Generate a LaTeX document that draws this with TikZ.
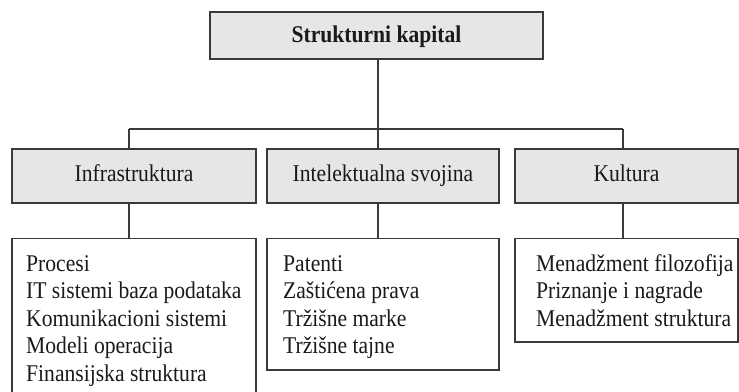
\documentclass[tikz,border=0pt]{standalone}
\usepackage{fontspec}
\setmainfont{Liberation Serif}[FakeStretch=0.9]
\begin{document}
\begin{tikzpicture}[x=1pt,y=1pt,
  frame/.style={draw=linegray,line width=1.2pt},
  headbox/.style={frame,fill=boxgray,inner sep=0pt,
    font=\fontsize{24}{27.5}\selectfont,text=ink},
  listbox/.style={frame,fill=white,inner sep=0pt},
  listtext/.style={inner sep=0pt,anchor=base west,text=ink,
    font=\fontsize{24}{27.5}\selectfont},
  link/.style={draw=linegray,line width=1.2pt}]
\definecolor{boxgray}{RGB}{231,229,230}
\definecolor{linegray}{RGB}{58,58,58}
\definecolor{ink}{RGB}{26,26,26}
\useasboundingbox (0,0) rectangle (739,391);
\clip (0,0) rectangle (739,391);

% root
\node[headbox,minimum width=333pt,minimum height=47pt,
  text height=17pt,text depth=2pt,font=\fontsize{24}{27.5}\selectfont\bfseries]
  (root) at (376.5,355.5) {Strukturni kapital};

% category headers
\node[headbox,minimum width=244pt,minimum height=54pt,text height=17pt,text depth=5pt]
  (h1) at (134,215) {Infrastruktura};
\node[headbox,minimum width=232pt,minimum height=54pt,text height=17pt,text depth=5pt]
  (h2) at (383,215) {Intelektualna svojina};
\node[headbox,minimum width=223pt,minimum height=54pt,text height=17pt,text depth=5pt]
  (h3) at (626.5,215) {Kultura};

% list boxes
\node[listbox,minimum width=244pt,minimum height=160pt] (c1) at (134,72.5) {};
\node[listbox,minimum width=232pt,minimum height=131.5pt] (c2) at (383,86.75) {};
\node[listbox,minimum width=223pt,minimum height=103.5pt] (c3) at (626.5,100.75) {};

\node[listtext] (t1) at (26,119.5) {\parbox[t]{225pt}{\raggedright
  Procesi\\IT sistemi baza podataka\\Komunikacioni sistemi\\Modeli operacija\\Finansijska struktura}};
\node[listtext] (t2) at (283,119.5) {\parbox[t]{210pt}{\raggedright
  Patenti\\Zaštićena prava\\Tržišne marke\\Tržišne tajne}};
\node[listtext] (t3) at (536,119.5) {\parbox[t]{200pt}{\raggedright
  Menadžment filozofija\\Priznanje i nagrade\\Menadžment struktura}};

% connectors
\coordinate (b1) at (129,262);
\coordinate (b2) at (378,262);
\coordinate (b3) at (623,262);
\draw[link] (root.south -| b2) -- (b2);
\draw[link] (b1) -- (b3);
\draw[link] (b1) -- (h1.north -| b1);
\draw[link] (b2) -- (h2.north -| b2);
\draw[link] (b3) -- (h3.north -| b3);
\draw[link] (h1.south -| b1) -- (c1.north -| b1);
\draw[link] (h2.south -| b2) -- (c2.north -| b2);
\draw[link] (h3.south -| b3) -- (c3.north -| b3);
\end{tikzpicture}
\end{document}
